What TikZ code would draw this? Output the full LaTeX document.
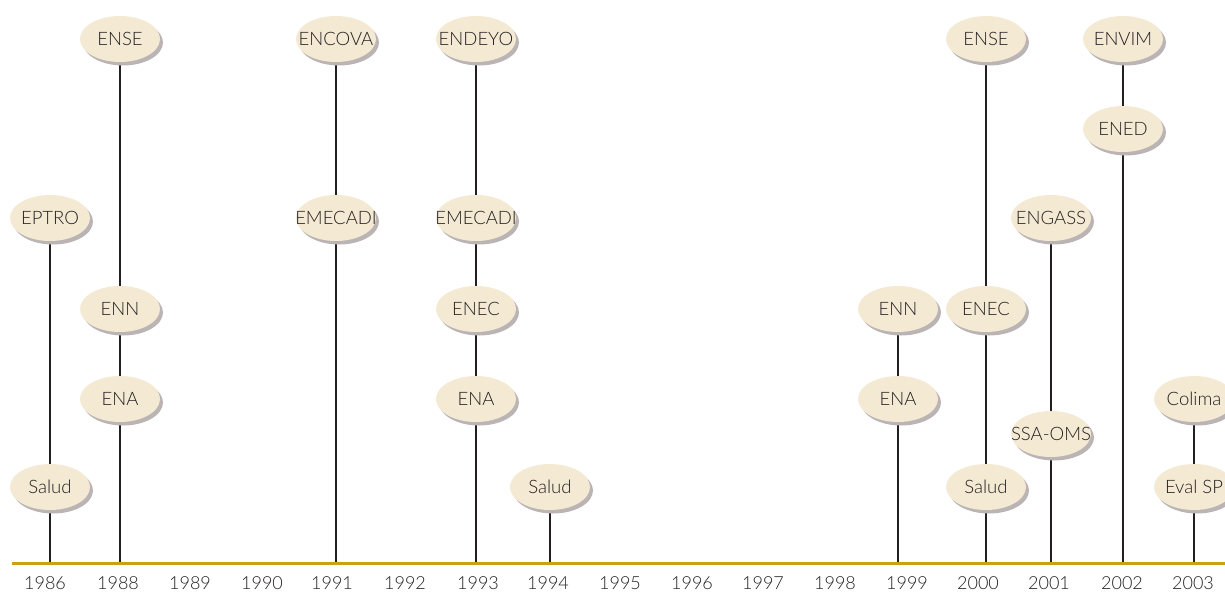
\documentclass[tikz,border=0pt]{standalone}
\usepackage{fontspec}
\setmainfont{Lato Light}
\usetikzlibrary{shapes.geometric,shadows,backgrounds}
\definecolor{cream}{RGB}{244,234,212}
\definecolor{shadowgray}{RGB}{187,180,180}
\definecolor{gold}{RGB}{200,162,20}
\definecolor{ink}{RGB}{35,31,32}
\newcommand{\evtext}[1]{\makebox[0pt][c]{#1}}
\begin{document}
\begin{tikzpicture}[x=1pt,y=-1pt,
  ev/.style={ellipse, fill=cream, minimum width=80pt, minimum height=46pt, inner sep=0pt,
    text=ink, font=\fontsize{18.5}{20}\selectfont,
    drop shadow={shadow xshift=3pt, shadow yshift=-3.5pt, fill=shadowgray, opacity=1}},
  stem/.style={draw=ink, line width=2.4pt},
  yr/.style={anchor=base, text=ink, font=\fontsize{18}{20}\selectfont},
  axisline/.style={draw=gold, line width=3pt}]
\useasboundingbox (0,0) rectangle (1225,592);

% axis coordinates
\coordinate (ax0) at (12,563);
\coordinate (ax1) at (1225,563);
\coordinate (b86) at (50,563);
\coordinate (b88) at (120,563);
\coordinate (b91) at (336,563);
\coordinate (b93) at (476,563);
\coordinate (b94) at (550,563);
\coordinate (b99) at (898,563);
\coordinate (b00) at (986,563);
\coordinate (b01) at (1051,563);
\coordinate (b02) at (1123,563);
\coordinate (b03) at (1194,563);

% 1986
\node[ev] (s86) at (50,487) {\evtext{Salud}};
\node[ev] (e86) at (50,218) {\evtext{EPTRO}};
% 1988
\node[ev] (a88) at (120,399) {\evtext{ENA}};
\node[ev] (n88) at (120,309) {\evtext{ENN}};
\node[ev] (t88) at (120,39) {\evtext{ENSE}};
% 1991
\node[ev] (m91) at (336,218) {\evtext{EMECADI}};
\node[ev] (c91) at (336,39) {\evtext{ENCOVA}};
% 1993
\node[ev] (a93) at (476,399) {\evtext{ENA}};
\node[ev] (n93) at (476,309) {\evtext{ENEC}};
\node[ev] (m93) at (476,218) {\evtext{EMECADI}};
\node[ev] (d93) at (476,39) {\evtext{ENDEYO}};
% 1994
\node[ev] (s94) at (550,487) {\evtext{Salud}};
% 1999
\node[ev] (a99) at (898,399) {\evtext{ENA}};
\node[ev] (n99) at (898,309) {\evtext{ENN}};
% 2000
\node[ev] (s00) at (986,487) {\evtext{Salud}};
\node[ev] (n00) at (986,309) {\evtext{ENEC}};
\node[ev] (t00) at (986,39) {\evtext{ENSE}};
% 2001
\node[ev] (o01) at (1051,434) {\evtext{SSA-OMS}};
\node[ev] (g01) at (1051,218) {\evtext{ENGASS}};
% 2002
\node[ev] (d02) at (1123,129) {\evtext{ENED}};
\node[ev] (v02) at (1123,39) {\evtext{ENVIM}};
% 2003
\node[ev] (p03) at (1194,487) {\evtext{Eval SP}};
\node[ev] (c03) at (1194,399) {\evtext{Colima}};

\begin{scope}[on background layer]
\draw[stem] (b86) -- (s86.center) -- (e86.center);
\draw[stem] (b88) -- (a88.center) -- (n88.center) -- (t88.center);
\draw[stem] (b91) -- (m91.center) -- (c91.center);
\draw[stem] (b93) -- (a93.center) -- (n93.center) -- (m93.center) -- (d93.center);
\draw[stem] (b94) -- (s94.center);
\draw[stem] (b99) -- (a99.center) -- (n99.center);
\draw[stem] (b00) -- (s00.center) -- (n00.center) -- (t00.center);
\draw[stem] (b01) -- (o01.center) -- (g01.center);
\draw[stem] (b02) -- (d02.center) -- (v02.center);
\draw[stem] (b03) -- (p03.center) -- (c03.center);
\end{scope}

\draw[axisline] (ax0) -- (ax1);

% year labels
\node[yr] (y1986) at (45,589) {1986};
\node[yr] (y1988) at (118,589) {1988};
\node[yr] (y1989) at (190,589) {1989};
\node[yr] (y1990) at (262,589) {1990};
\node[yr] (y1991) at (332,589) {1991};
\node[yr] (y1992) at (405,589) {1992};
\node[yr] (y1993) at (478,589) {1993};
\node[yr] (y1994) at (548,589) {1994};
\node[yr] (y1995) at (620,589) {1995};
\node[yr] (y1996) at (692,589) {1996};
\node[yr] (y1997) at (763,589) {1997};
\node[yr] (y1998) at (835,589) {1998};
\node[yr] (y1999) at (907,589) {1999};
\node[yr] (y2000) at (978,589) {2000};
\node[yr] (y2001) at (1049,589) {2001};
\node[yr] (y2002) at (1122,589) {2002};
\node[yr] (y2003) at (1193,589) {2003};
\end{tikzpicture}
\end{document}
